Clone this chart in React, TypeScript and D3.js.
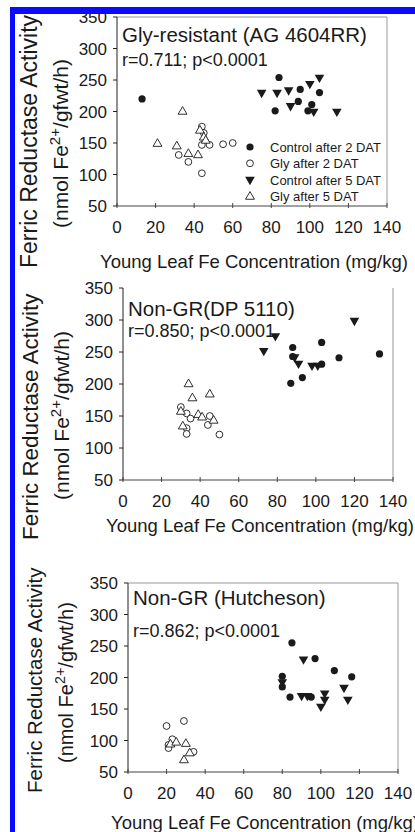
import React from 'react';
import * as d3 from 'd3';

// axis ticks shared by all three panels
const xTicks = [0, 20, 40, 60, 80, 100, 120, 140];
const yTicks = [50, 100, 150, 200, 250, 300, 350];
const legendNames = ['Control after 2 DAT', 'Gly after 2 DAT', 'Control after 5 DAT', 'Gly after 5 DAT'];

// Gly-resistant (AG 4604RR)
const agControl2 = [[13, 220], [84, 254], [82, 201], [95, 235], [94, 216], [105, 230], [101, 211], [99, 201]];
const agGly2 = [[32, 131], [37, 120], [44, 147], [48, 147], [55, 148], [60, 150], [44, 102], [44, 176], [45, 166]];
const agControl5 = [[75, 230], [83, 230], [89, 234], [100, 244], [105, 254], [90, 209], [102, 200], [114, 200]];
const agGly5 = [[21, 150], [31, 146], [34, 201], [37, 134], [42, 132], [43, 171], [45, 160], [46, 155]];

// Non-GR (DP 5110)
const dpControl2 = [[88, 257], [88, 243], [103, 265], [112, 241], [133, 247], [87, 201], [93, 210], [103, 231]];
const dpGly2 = [[30, 164], [33, 154], [35, 146], [33, 131], [33, 122], [45, 150], [44, 136], [50, 121]];
const dpControl5 = [[73, 252], [79, 275], [120, 299], [89, 242], [91, 232], [98, 229], [101, 229]];
const dpGly5 = [[34, 201], [36, 179], [45, 185], [30, 158], [31, 135], [39, 153], [41, 149], [47, 144]];

// Non-GR (Hutcheson)
const huControl2 = [[85, 255], [97, 230], [107, 211], [116, 201], [80, 202], [80, 185], [84, 169], [95, 169]];
const huGly2 = [[20, 123], [29, 131], [23, 102], [21, 93], [21, 88], [34, 82]];
const huControl5 = [[91, 229], [80, 193], [90, 171], [93, 171], [100, 154], [102, 175], [102, 165], [112, 184], [114, 165]];
const huGly5 = [[22, 95], [25, 98], [30, 96], [29, 70], [32, 81]];

const FONT = "'Liberation Sans', Arial, sans-serif";
const INK = '#1a1a1a';

const triDown = d3.symbol().type(d3.symbolTriangle).size(40)();
const triUp = d3.symbol().type(d3.symbolTriangle).size(34)();

function Marker({ kind, x, y }) {
  if (kind === 0) return <circle cx={x} cy={y} r={3.6} fill={INK} />;
  if (kind === 1) return <circle cx={x} cy={y} r={3.4} fill="#fff" stroke={INK} strokeWidth={0.9} />;
  if (kind === 2) return <path d={triDown} transform={`translate(${x},${y}) rotate(180)`} fill={INK} />;
  return <path d={triUp} transform={`translate(${x},${y + 0.8})`} fill="#fff" stroke={INK} strokeWidth={0.9} />;
}

function Panel({ box, series, title, titleSize, stat, label, legend, topFrame, xTitleDy }) {
  const x = d3.scaleLinear().domain([0, 140]).range([box.left, box.right]);
  const y = d3.scaleLinear().domain([50, 350]).range([box.bottom, box.top]);

  return (
    <g fontFamily={FONT} fill={INK}>
      {/* frame */}
      {topFrame && <line x1={box.left} x2={box.right} y1={box.top} y2={box.top} stroke="#999" />}
      <line x1={box.right} x2={box.right} y1={box.top} y2={box.bottom} stroke="#999" />
      <line x1={box.left} x2={box.right} y1={box.bottom} y2={box.bottom} stroke="#444" />
      <line x1={box.left} x2={box.left} y1={box.top} y2={box.bottom} stroke="#222" />

      {xTicks.map(t => (
        <g key={'x' + t}>
          <line x1={x(t)} x2={x(t)} y1={box.bottom - 3} y2={box.bottom + 2} stroke="#444" />
          <text x={x(t)} y={box.bottom + 27} fontSize={17} textAnchor="middle">{t}</text>
        </g>
      ))}
      {yTicks.map(t => (
        <g key={'y' + t}>
          <line x1={box.left - 4} x2={box.left} y1={y(t)} y2={y(t)} stroke="#222" />
          <text x={box.left - 10} y={y(t) + 6} fontSize={17} textAnchor="end">{t}</text>
        </g>
      ))}

      <text x={box.left + 5} y={box.top + title.dy} fontSize={titleSize}>{title.text}</text>
      <text x={box.left + 5} y={box.top + stat.dy} fontSize={18}>{stat.text}</text>

      <text x={(box.left + box.right) / 2 + 2} y={box.bottom + xTitleDy} fontSize={18.5} textAnchor="middle">
        Young Leaf Fe Concentration (mg/kg)
      </text>

      <text transform={`translate(${label.x1},${label.y1}) rotate(-90)`} fontSize={label.size}>
        Ferric Reductase Activity
      </text>
      <text transform={`translate(${label.x2},${label.y2}) rotate(-90)`} fontSize={label.size2}>
        (nmol Fe<tspan fontSize={label.size2 * 0.72} dy={-8}>2+</tspan>
        <tspan dy={8}>/gfwt/h)</tspan>
      </text>

      {series.map((pts, k) => (
        <g key={k}>
          {pts.map((p, i) => <Marker key={i} kind={k} x={x(p[0])} y={y(p[1])} />)}
        </g>
      ))}

      {legend && legendNames.map((name, k) => (
        <g key={name}>
          <Marker kind={k} x={box.left + 133} y={box.top + 130 + k * 16.3} />
          <text x={box.left + 153} y={box.top + 135 + k * 16.3} fontSize={13}>{name}</text>
        </g>
      ))}
    </g>
  );
}

export default function App() {
  return (
    <svg width={415} height={832} style={{ position: 'absolute', left: 0, top: 0, background: '#fff' }}>
      <rect x={0} y={0} width={415} height={832} fill="#fff" />
      <Panel
        box={{ left: 117, right: 387, top: 17, bottom: 206 }}
        series={[agControl2, agGly2, agControl5, agGly5]}
        title={{ text: 'Gly-resistant (AG 4604RR)', dy: 25 }}
        titleSize={20.5}
        stat={{ text: 'r=0.711; p<0.0001', dy: 49 }}
        label={{ x1: 37, y1: 268, size: 23, x2: 68, y2: 228, size2: 21 }}
        legend
        topFrame
        xTitleDy={62}
      />
      <Panel
        box={{ left: 123, right: 393, top: 288, bottom: 480 }}
        series={[dpControl2, dpGly2, dpControl5, dpGly5]}
        title={{ text: 'Non-GR(DP 5110)', dy: 28 }}
        titleSize={20.5}
        stat={{ text: 'r=0.850; p<0.0001', dy: 49 }}
        label={{ x1: 38, y1: 540, size: 22.4, x2: 69, y2: 500, size2: 21 }}
        topFrame={false}
        xTitleDy={52}
      />
      <Panel
        box={{ left: 128, right: 398, top: 583, bottom: 772 }}
        series={[huControl2, huGly2, huControl5, huGly5]}
        title={{ text: 'Non-GR (Hutcheson)', dy: 22 }}
        titleSize={20.5}
        stat={{ text: 'r=0.862; p<0.0001', dy: 54 }}
        label={{ x1: 42, y1: 793, size: 20.5, x2: 73, y2: 763, size2: 20 }}
        topFrame
        xTitleDy={57}
      />
      <rect x={10} y={7} width={405} height={7} fill="#0a0aff" />
      <rect x={10} y={7} width={5} height={825} fill="#0a0aff" />
    </svg>
  );
}
